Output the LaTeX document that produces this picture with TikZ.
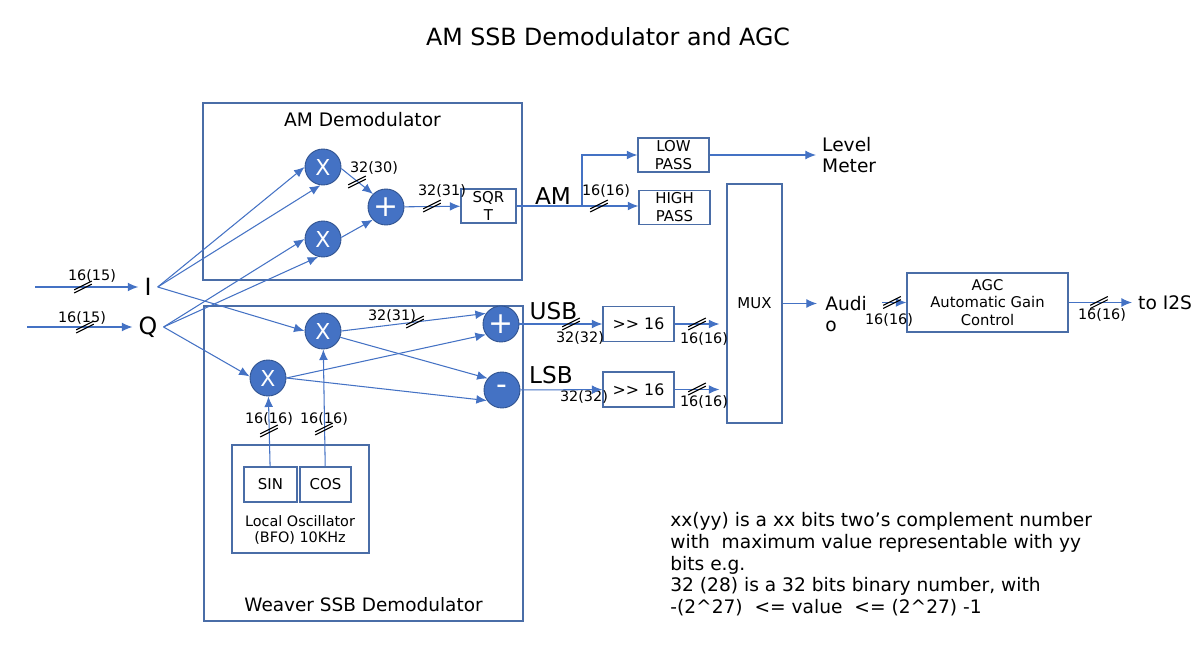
\documentclass[tikz,border=0pt]{standalone}
\usepackage{fontspec}
\setmainfont{DejaVu Sans}
\usetikzlibrary{
  calc,
  positioning,
  arrows.meta,
  fit
}
\definecolor{linec}{HTML}{4472C4}
\definecolor{boxc}{HTML}{4A6DA7}
\definecolor{circc}{HTML}{2F528F}
\tikzset{>={Latex[length=6pt,width=5pt]}}
\tikzset{bus/.pic={\draw[-, black, line width=0.6pt] (-5pt,-3.4pt) -- (5pt,1.6pt) (-5pt,-1.6pt) -- (5pt,3.4pt);}}

\begin{document}
\begin{tikzpicture}[x=0.02cm, y=-0.02cm,
    block/.style = {rectangle, draw=boxc, line width=0.7pt, align=center, inner sep=1pt, font=\fontsize{8.5}{10.2}\selectfont},
    mult/.style = {circle, fill=linec, draw=circc, line width=0.5pt, minimum size=0.72cm, inner sep=0pt, text=white, font=\fontsize{12.5}{12}\selectfont},
    frame/.style = {draw=boxc, line width=0.8pt, inner sep=0pt},
    lbl/.style = {inner sep=0pt, font=\fontsize{8.2}{9}\selectfont},
    big/.style = {inner sep=0pt, font=\fontsize{13.2}{14}\selectfont},
    txt/.style = {align=left, font=\fontsize{10.6}{12.4}\selectfont},
    wire/.style = {linec, line width=0.6pt},
    ->]
  \useasboundingbox (0,0) rectangle (1203,655);

  % nodes
  \node[font=\fontsize{13.5}{16}\selectfont] (title) at (608,37) {AM SSB Demodulator and AGC};

  \node[frame, fit={(203,103) (522,280)}] (amdemod) {};
  \node[below=2pt of amdemod.north, font=\fontsize{10.6}{12}\selectfont] (amtitle) {AM Demodulator};
  \node[frame, fit={(204,306) (523,621)}] (weaver) {};
  \node[above=1.9pt of weaver.south, font=\fontsize{10.5}{12}\selectfont] (wtitle) {Weaver SSB Demodulator};

  \coordinate (i_src) at (35,287);
  \coordinate (q_src) at (27,327);
  \node[font=\fontsize{13.5}{14}\selectfont] (I) at (148,287) {I};
  \node[font=\fontsize{13.5}{14}\selectfont] (Q) at (148,327) {Q};

  \node[mult] (x1) at (323,167) {X};
  \node[mult] (x2) at (323,239) {X};
  \node[mult, font=\fontsize{17}{17}\selectfont] (sum_am) at (386,207) {+};
  \node[block, minimum width=1.1cm, minimum height=0.68cm] (sqrt) at (488.5,206) {SQR\\T};

  \coordinate (am_split) at (582,206);
  \node[block, minimum width=1.42cm, minimum height=0.68cm] (lowpass) at (673.5,155) {LOW\\PASS};
  \node[block, minimum width=1.42cm, minimum height=0.68cm] (highpass) at (674.5,207.5) {HIGH\\PASS};
  \node[txt, anchor=west] (level) at (816,155) {Level\\Meter};

  \node[mult] (x3) at (323,331) {X};
  \node[mult] (x4) at (268,378) {X};
  \node[mult, font=\fontsize{17}{17}\selectfont] (sum_usb) at (501,324) {+};
  \node[mult, font=\fontsize{17}{17}\selectfont] (diff_lsb) at (502,390) {-};

  \node[block, minimum width=2.74cm, minimum height=2.16cm] (lo) at (300.5,499) {};
  \node[block, minimum width=1.06cm, minimum height=0.7cm] (sin) at (270.5,484.5) {SIN};
  \node[block, minimum width=1.02cm, minimum height=0.7cm] (cos) at (325.5,484.5) {COS};
  \node[align=center, inner sep=0pt, font=\fontsize{8.2}{9.4}\selectfont] (lo_txt) at (300,530) {Local Oscillator\\(BFO) 10KHz};

  \node[block, minimum width=1.42cm, minimum height=0.7cm, font=\fontsize{9}{10}\selectfont] (shr_usb) at (638.5,324) {>{}> 16};
  \node[block, minimum width=1.42cm, minimum height=0.7cm, font=\fontsize{9}{10}\selectfont] (shr_lsb) at (638.5,389.5) {>{}> 16};
  \node[block, minimum width=1.1cm, minimum height=4.78cm] (mux) at (754.5,303.5) {MUX};

  \node[txt, anchor=west, inner xsep=4.5pt] (audio) at (817,314) {Audi\\o};
  \node[block, minimum width=3.22cm, minimum height=1.18cm, font=\fontsize{8.4}{9.9}\selectfont] (agc) at (987.5,302.5) {AGC\\Automatic Gain\\Control};
  \node[txt, anchor=west] (i2s) at (1132,302.5) {to I2S};

  % signal names
  \node[big] (am_name) at (553,196) {AM};
  \node[big] (usb_name) at (553.5,311) {USB};
  \node[big] (lsb_name) at (551,375.5) {LSB};

  % bit widths
  \node[lbl] (l_i) at (92,276) {16(15)};
  \node[lbl] (l_q) at (82,318) {16(15)};
  \node[lbl] (l_x1) at (374,168) {32(30)};
  \node[lbl] (l_sum) at (442,191) {32(31)};
  \node[lbl] (l_x3) at (392,316) {32(31)};
  \node[lbl] (l_sin) at (269,419) {16(16)};
  \node[lbl] (l_cos) at (324,419) {16(16)};
  \node[lbl] (l_am) at (606,191) {16(16)};
  \node[lbl] (l_usb) at (580,338) {32(32)};
  \node[lbl] (l_lsb) at (584,397) {32(32)};
  \node[lbl] (l_mu) at (704,339) {16(16)};
  \node[lbl] (l_ml) at (704,402) {16(16)};
  \node[lbl] (l_aud) at (889,320) {16(16)};
  \node[lbl] (l_out) at (1102,315) {16(16)};

  \node[txt, anchor=north west, inner sep=0pt] (note) at (670,512) {xx(yy) is a xx bits two’s complement number\\with\ \ maximum value representable with yy\\bits e.g.\\32 (28) is a 32 bits binary number, with\\-(2\textasciicircum 27)\ \ <= value\ \ <= (2\textasciicircum 27) -1};

  % connections
  \draw[wire] (i_src) -- (I);
  \draw[wire] (q_src) -- (Q);
  \draw[wire] (I.east) -- (x1.180);
  \draw[wire] (I.east) -- (x1.262);
  \draw[wire] (Q.east) -- (x2.180);
  \draw[wire] (Q.east) -- (x2.255);
  \draw[wire] (I.east) -- (x3.180);
  \draw[wire] (Q.east) -- (x4.175);

  \draw[wire] (x1.-5) -- (sum_am.135);
  \draw[wire] (x2.5) -- (sum_am.224);
  \draw[wire] (sum_am) -- (sqrt);
  \draw[wire, -] (sqrt) -- (am_split);
  \draw[wire] (am_split) |- (lowpass);
  \draw[wire] (am_split) -- (am_split -| highpass.west);
  \draw[wire] (lowpass) -- (level);

  \draw[wire] (x3.east) -- (sum_usb.145);
  \draw[wire] (x3.-20) -- (diff_lsb.141);
  \draw[wire] (x4.east) -- (sum_usb.215);
  \draw[wire] (x4.east) -- (diff_lsb.215);
  \draw[wire] (sin) -- (x4);
  \draw[wire] (cos) -- (x3);
  \draw[wire] (sum_usb) -- (shr_usb);
  \draw[wire] (diff_lsb) -- (shr_lsb);
  \draw[wire, shorten >=4pt] (shr_usb.east) -- (shr_usb.east -| mux.west);
  \draw[wire, shorten >=4pt] (shr_lsb.east) -- (shr_lsb.east -| mux.west);

  \draw[wire] (mux.east) -- (mux.east -| audio.west);
  \draw[wire, shorten <=4pt] (agc.west -| audio.east) -- (agc.west);
  \draw[wire] (agc) -- (i2s);

  % bus marks
  \pic at (83,287) {bus};
  \pic at (85,327) {bus};
  \pic at (357,182) {bus};
  \pic at (432,206) {bus};
  \pic at (415,322) {bus};
  \pic at (269,431) {bus};
  \pic at (324,429) {bus};
  \pic at (599,206) {bus};
  \pic at (571,324) {bus};
  \pic at (697,324) {bus};
  \pic at (697,389) {bus};
  \pic at (892,302.5) {bus};
  \pic at (1099,302.5) {bus};
\end{tikzpicture}
\end{document}
